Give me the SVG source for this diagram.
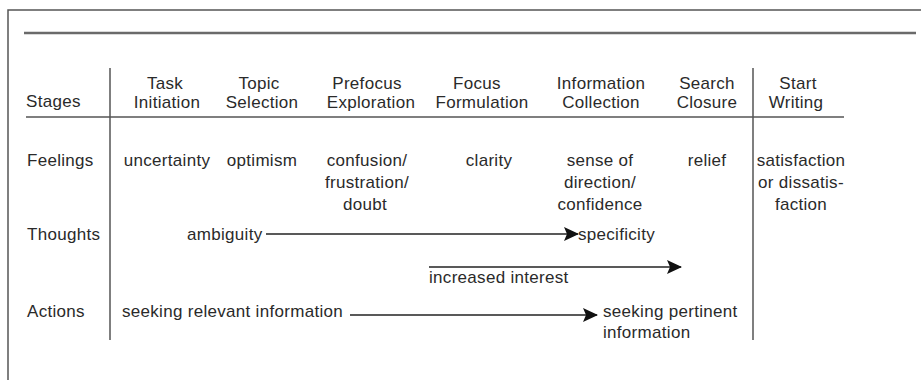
<svg xmlns="http://www.w3.org/2000/svg" width="921" height="380" viewBox="0 0 921 380">
<style>
  text { font-family: "Liberation Sans", Arial, sans-serif; font-size: 17px; fill: #2a2a2a; letter-spacing: 0.3px; }
  .c { text-anchor: middle; }
  .rule { stroke: #555; stroke-width: 1.5; fill: none; }
  .arrow { stroke: #222; stroke-width: 1.6; fill: none; }
</style>
<defs>
  <marker id="ah" viewBox="0 0 15 14" refX="14" refY="7" markerWidth="15" markerHeight="14" markerUnits="userSpaceOnUse" orient="auto">
    <path d="M0,0 L15,7 L0,14 L3,7 z" fill="#111"/>
  </marker>
</defs>
<rect width="921" height="380" fill="#fff"/>
<g id="frame">
  <path class="rule" d="M8,380 V10 H921"/>
  <line x1="24" y1="33" x2="916" y2="33" stroke="#6a6a6a" stroke-width="2.5"/>
  <line class="rule" x1="26" y1="117" x2="844" y2="117"/>
  <line class="rule" x1="110" y1="68" x2="110" y2="340"/>
  <line class="rule" x1="753" y1="68" x2="753" y2="340"/>
</g>
<g id="row-labels">
  <text x="26" y="107">Stages</text>
  <text x="27" y="166">Feelings</text>
  <text x="27" y="240">Thoughts</text>
  <text x="27" y="317">Actions</text>
</g>
<g id="stage-task"><text class="c" x="165" y="89">Task</text><text class="c" x="167" y="108">Initiation</text></g>
<g id="stage-topic"><text class="c" x="259" y="89">Topic</text><text class="c" x="262" y="108">Selection</text></g>
<g id="stage-prefocus"><text class="c" x="367" y="89">Prefocus</text><text class="c" x="371" y="108">Exploration</text></g>
<g id="stage-focus"><text class="c" x="477" y="89">Focus</text><text class="c" x="482" y="108">Formulation</text></g>
<g id="stage-collection"><text class="c" x="601" y="89">Information</text><text class="c" x="601" y="108">Collection</text></g>
<g id="stage-closure"><text class="c" x="707" y="89">Search</text><text class="c" x="707" y="108">Closure</text></g>
<g id="stage-writing"><text class="c" x="798" y="89">Start</text><text class="c" x="796" y="108">Writing</text></g>
<g id="feel-uncertainty"><text class="c" x="167" y="166">uncertainty</text></g>
<g id="feel-optimism"><text class="c" x="262" y="166">optimism</text></g>
<g id="feel-confusion"><text class="c" x="367" y="166">confusion/</text><text class="c" x="367" y="188">frustration/</text><text class="c" x="365" y="210">doubt</text></g>
<g id="feel-clarity"><text class="c" x="489" y="166">clarity</text></g>
<g id="feel-direction"><text class="c" x="600" y="166">sense of</text><text class="c" x="600" y="188">direction/</text><text class="c" x="600" y="210">confidence</text></g>
<g id="feel-relief"><text class="c" x="707" y="166">relief</text></g>
<g id="feel-satisfaction"><text class="c" x="801" y="166">satisfaction</text><text class="c" x="801" y="188">or dissatis-</text><text class="c" x="801" y="210">faction</text></g>
<g id="thought-ambiguity"><text x="187" y="240">ambiguity</text></g>
<g id="thought-specificity"><text x="578" y="240">specificity</text></g>
<g id="interest"><text x="429" y="283">increased interest</text></g>
<g id="action-relevant"><text x="122" y="317">seeking relevant information</text></g>
<g id="action-pertinent"><text x="603" y="317">seeking pertinent</text><text x="603" y="338">information</text></g>
<g id="connectors">
  <line class="arrow" x1="266" y1="234" x2="578" y2="234" marker-end="url(#ah)"/>
  <line class="arrow" x1="429" y1="267" x2="681" y2="267" marker-end="url(#ah)"/>
  <line class="arrow" x1="350" y1="315" x2="597" y2="315" marker-end="url(#ah)"/>
</g>
</svg>
